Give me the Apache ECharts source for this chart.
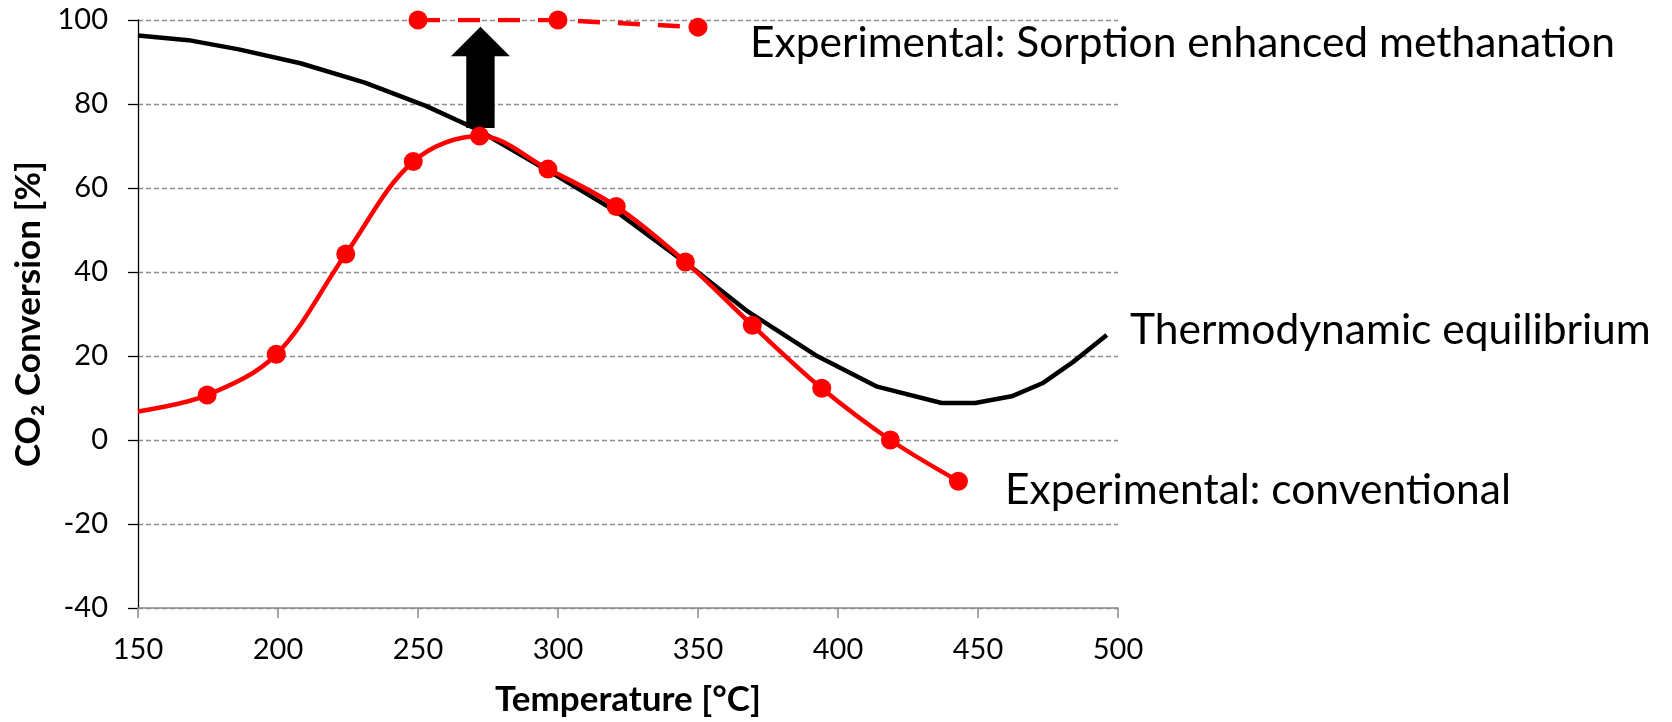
<!DOCTYPE html>
<html><head><meta charset="utf-8">
<script src="https://cdn.jsdelivr.net/npm/echarts@6/dist/echarts.min.js"></script>
<style>html,body{margin:0;padding:0;background:#fff}#c{width:1672px;height:722px}</style>
</head><body><div id="c"></div>
<script>
// ---- data ----
const xTicks = [150, 200, 250, 300, 350, 400, 450, 500];
const yTicks = [-40, -20, 0, 20, 40, 60, 80, 100];

const equilibriumT = [150, 168, 186, 208, 231, 253, 271, 296, 321, 346, 368, 392, 414, 437, 449, 462, 473, 484, 496];
const equilibriumV = [96.3, 95.2, 93.0, 89.7, 85.1, 79.5, 74.0, 64.3, 54.3, 42.0, 30.5, 20.2, 12.7, 8.8, 8.8, 10.4, 13.5, 18.6, 25.0];

const conventionalT = [150, 174.7, 199.4, 224.2, 248.3, 272.0, 296.4, 320.8, 345.5, 369.4, 394.2, 418.7, 443.0];
const conventionalV = [6.8, 10.7, 20.4, 44.3, 66.3, 72.4, 64.5, 55.6, 42.4, 27.3, 12.3, 0.0, -9.8];

const sorptionT = [250, 300, 350];
const sorptionV = [100.0, 100.0, 98.3];

const arrowT = [272.3];
const arrowFromV = [74.3];
const arrowToV = [98.4];

const seriesLabels = [
  'Experimental: Sorption enhanced methanation',
  'Thermodynamic equilibrium',
  'Experimental: conventional'
];
const xTitle = 'Temperature [°C]';
const yTitle = 'CO₂ Conversion [%]';

// ---- chart ----
const FONT = 'Lato, "Noto Sans", sans-serif';
const chart = echarts.init(document.getElementById('c'), null, {renderer: 'canvas'});

const zip = (a, b) => a.map((v, i) => [v, b[i]]);
const convData = zip(conventionalT, conventionalV).map((p, i) =>
  i === 0 ? {value: p, symbol: 'none'} : {value: p});

const labelPos = [
  {x: 750, y: 43},
  {x: 1130, y: 330},
  {x: 1005, y: 490}
];

chart.setOption({
  animation: false,
  backgroundColor: '#fff',
  grid: {left: 138, right: 554, top: 20, bottom: 110.5, containLabel: false},
  xAxis: {
    type: 'value', min: xTicks[0], max: xTicks[xTicks.length - 1], interval: 50,
    axisLine: {show: true, onZero: false, lineStyle: {color: '#898989', width: 1.5}},
    axisTick: {show: true, length: 10, lineStyle: {color: '#898989', width: 1.5}},
    splitLine: {show: false},
    axisLabel: {color: '#000', fontSize: 29, fontFamily: FONT, margin: 27},
    name: xTitle, nameLocation: 'middle', nameGap: 74,
    nameTextStyle: {color: '#000', fontSize: 35, fontWeight: 'bold', fontFamily: FONT}
  },
  yAxis: {
    type: 'value', min: yTicks[0], max: yTicks[yTicks.length - 1], interval: 20,
    axisLine: {show: true, onZero: false, lineStyle: {color: '#000', width: 1.3}},
    axisTick: {show: true, length: 10, lineStyle: {color: '#000', width: 1.3}},
    splitLine: {show: true, lineStyle: {color: '#8c8c8c', width: 1.3, type: [5, 3]}},
    axisLabel: {color: '#000', fontSize: 29, fontFamily: FONT, margin: 30},
    name: yTitle, nameLocation: 'middle', nameGap: 90, nameRotate: 90,
    nameTextStyle: {color: '#000', fontSize: 35, fontWeight: 'bold', fontFamily: FONT}
  },
  series: [
    {
      name: seriesLabels[1], type: 'line', data: zip(equilibriumT, equilibriumV),
      showSymbol: false, symbol: 'none', smooth: false,
      lineStyle: {color: '#000', width: 4.5}, z: 2
    },
    {
      type: 'custom', silent: true, z: 2,
      data: arrowT.map((t, i) => [t, arrowFromV[i], arrowToV[i]]),
      renderItem: function (params, api) {
        const base = api.coord([api.value(0), api.value(1)]);
        const tip = api.coord([api.value(0), api.value(2)]);
        const sw = 14.2, hw = 29.5, hl = 29.5;
        const x = base[0];
        return {
          type: 'polygon',
          shape: {points: [
            [x - sw, base[1]], [x - sw, tip[1] + hl], [x - hw, tip[1] + hl],
            [x, tip[1]], [x + hw, tip[1] + hl], [x + sw, tip[1] + hl], [x + sw, base[1]]
          ]},
          style: {fill: '#000'}
        };
      }
    },
    {
      name: seriesLabels[0], type: 'line', data: zip(sorptionT, sorptionV),
      symbol: 'circle', symbolSize: 19, smooth: false,
      itemStyle: {color: '#ff0000'},
      lineStyle: {color: '#ff0000', width: 4.5, type: [22, 18]}, z: 3
    },
    {
      name: seriesLabels[2], type: 'line', data: convData,
      symbol: 'circle', symbolSize: 19, smooth: 0.35,
      itemStyle: {color: '#ff0000'},
      lineStyle: {color: '#ff0000', width: 4.5}, z: 4
    }
  ],
  graphic: seriesLabels.map((t, i) => ({
    type: 'text', x: labelPos[i].x, y: labelPos[i].y, silent: true,
    style: {text: t, fill: '#000', fontSize: 42.5, fontFamily: FONT, align: 'left', verticalAlign: 'middle'}
  }))
});
</script>
</body></html>
